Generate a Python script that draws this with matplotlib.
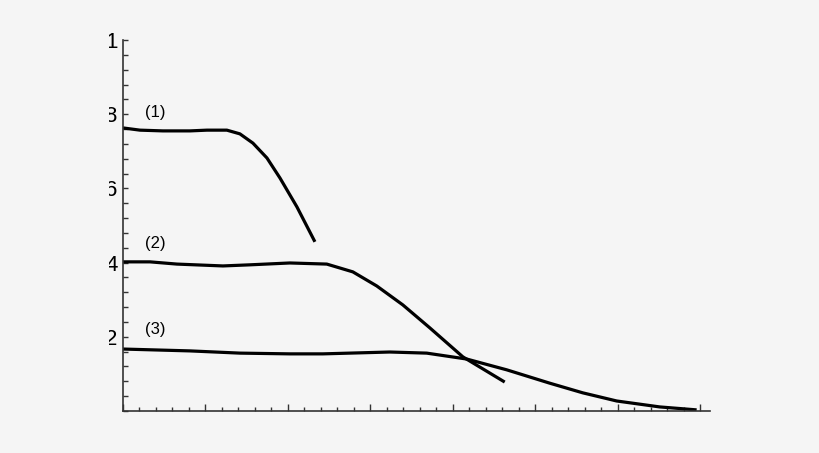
import matplotlib
matplotlib.use("Agg")
import matplotlib.pyplot as plt
from matplotlib.ticker import MultipleLocator
from matplotlib.patches import Rectangle

bg = "#f5f5f5"

# curve (1)
x1 = [0, 1.03, 2.42, 4.06, 5.09, 6.30, 7.09, 7.88, 8.73, 9.52, 10.55, 11.64]
y1 = [7.63, 7.57, 7.55, 7.55, 7.57, 7.57, 7.47, 7.22, 6.82, 6.28, 5.50, 4.56]

# curve (2)
x2 = [0, 1.64, 3.27, 6.06, 7.70, 10.12, 12.36, 13.94, 15.39, 16.97, 18.61, 20.61, 23.15]
y2 = [4.02, 4.02, 3.96, 3.91, 3.94, 3.99, 3.96, 3.75, 3.37, 2.86, 2.24, 1.46, 0.78]

# curve (3)
x3 = [0, 4.06, 7.09, 10.12, 12.12, 16.18, 18.42, 20.85, 23.27, 25.88, 27.88, 29.94, 32.55, 34.79]
y3 = [1.67, 1.62, 1.56, 1.54, 1.54, 1.59, 1.56, 1.40, 1.11, 0.75, 0.49, 0.27, 0.11, 0.03]

curve_labels = ["(1)", "(2)", "(3)"]
label_pos = [(1.95, 8.05), (1.95, 4.52), (1.95, 2.2)]

ytick_vals = [0, 2, 4, 6, 8, 10]
ytick_text = ["", "2", "4", "6", "8", "1"]

fig = plt.figure(figsize=(8.2, 4.53), dpi=100, facecolor=bg)
ax = fig.add_axes([123 / 820, 42 / 453, 587 / 820, 371 / 453], facecolor=bg)

for xs, ys in [(x1, y1), (x2, y2), (x3, y3)]:
    ax.plot(xs, ys, color="black", lw=2.3, solid_capstyle="butt")

for txt, (lx, ly) in zip(curve_labels, label_pos):
    ax.text(lx, ly, txt, fontsize=12, family="Liberation Sans", ha="center", va="center")

ax.set_xlim(0, 35.6)
ax.set_ylim(0, 10)

for s in ["top", "right"]:
    ax.spines[s].set_visible(False)
for s in ["left", "bottom"]:
    ax.spines[s].set_color("#333333")
    ax.spines[s].set_linewidth(1.2)

ax.xaxis.set_major_locator(MultipleLocator(5))
ax.xaxis.set_minor_locator(MultipleLocator(1))
ax.set_xticklabels([])
ax.tick_params(axis="x", which="major", direction="in", length=5, width=1, colors="#333333")
ax.tick_params(axis="x", which="minor", direction="in", length=3, width=1, colors="#333333")

ax.set_yticks(ytick_vals)
ax.set_yticklabels(ytick_text, fontsize=16, family="Liberation Sans")
ax.yaxis.set_minor_locator(MultipleLocator(0.4))
ax.tick_params(axis="y", which="both", direction="in", length=3.5, width=1,
               colors="#333333", labelcolor="black", pad=4)

# left edge of the picture hides part of the tick labels
fig.patches.append(Rectangle((0, 0), 109.5 / 820, 1, transform=fig.transFigure,
                             facecolor=bg, edgecolor="none", zorder=10))

fig.savefig("out.png", dpi=100, facecolor=bg)
